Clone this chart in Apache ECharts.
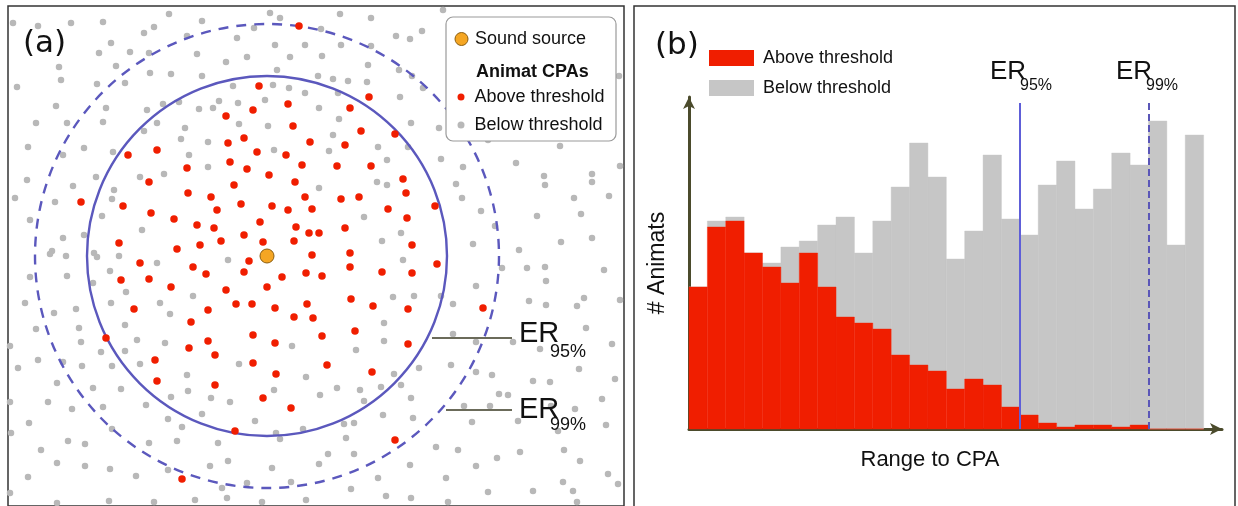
<!DOCTYPE html>
<html><head><meta charset="utf-8">
<script src="https://cdn.jsdelivr.net/npm/echarts@6/dist/echarts.min.js"></script>
<style>html,body{margin:0;padding:0;background:#fff}#c{width:1238px;height:506px}</style>
</head><body><div id="c"></div>
<script>
// ---------- Panel (a): animat CPA positions (offsets from the sound source) ----------
const soundSource = [[0, 0]];
const aboveCPA = [
[32,230],[-8,170],[102,159],[-14,146],[21,152],[83,148],[-41,140],[26,130],[94,125],[128,122],
[-139,101],[-110,106],[-39,113],[-23,118],[43,114],[78,111],[-10,104],[19,101],[-80,88],[-37,94],
[-20,87],[35,91],[70,90],[104,90],[-118,74],[2,81],[28,74],[136,77],[-33,71],[-186,54],
[-144,50],[-79,63],[-56,59],[38,59],[74,57],[92,59],[139,63],[168,50],[-116,43],[-50,46],
[-26,52],[5,50],[21,46],[45,47],[121,47],[-93,37],[140,38],[-70,31],[-53,28],[-7,34],
[29,29],[78,28],[42,23],[52,23],[-148,13],[-90,7],[-67,11],[-46,15],[-23,21],[-4,14],
[27,15],[145,11],[-127,-7],[-18,-5],[45,1],[83,3],[170,-8],[-146,-24],[-118,-23],[-74,-11],
[-61,-18],[-23,-16],[15,-21],[39,-17],[55,-20],[83,-11],[115,-16],[145,-17],[-96,-31],[-41,-34],
[0,-31],[-133,-53],[-59,-54],[-31,-48],[-15,-48],[8,-52],[40,-48],[84,-43],[106,-50],[141,-53],
[216,-52],[-76,-66],[27,-61],[46,-62],[-161,-82],[-78,-92],[-59,-85],[-14,-79],[8,-87],[55,-80],
[88,-75],[141,-88],[-112,-104],[-52,-99],[-14,-107],[60,-109],[-110,-125],[-52,-129],[9,-118],[105,-116],
[-4,-142],[24,-152],[-32,-175],[128,-184],[-85,-223]
];
const belowCPA = [
[-98,242],[-254,233],[-229,230],[-196,233],[-164,234],[-65,235],[-113,229],[-123,223],[-80,220],[-156,213],
[-168,203],[-137,204],[-118,203],[-70,202],[-208,189],[-151,190],[-117,183],[-96,182],[-65,180],[-206,176],
[-170,172],[-142,173],[-250,169],[-104,152],[-88,154],[-211,150],[-161,148],[-120,146],[-68,147],[-54,148],
[-231,133],[-200,133],[-164,134],[-110,133],[-123,125],[-82,128],[-86,117],[-59,114],[-239,109],[-183,108],
[-154,104],[-204,101],[-78,101],[-59,89],[-240,76],[-171,79],[-127,79],[-103,82],[-194,70],[-153,66],
[-252,58],[-212,54],[-155,57],[-165,40],[-237,36],[-125,26],[-204,18],[-183,21],[-215,5],[-173,3],
[3,243],[13,238],[73,242],[104,238],[-13,228],[54,227],[129,220],[143,217],[-30,218],[8,211],
[38,211],[74,211],[104,210],[-20,199],[23,199],[55,200],[-41,194],[101,191],[10,186],[132,186],
[145,180],[51,180],[66,177],[81,175],[100,174],[156,168],[-34,170],[6,171],[22,168],[38,163],
[71,163],[-48,155],[-29,153],[-2,156],[133,159],[52,148],[72,137],[-28,132],[1,130],[144,133],
[66,121],[7,106],[62,105],[111,109],[141,109],[120,96],[110,74],[120,71],[52,68],[97,39],
[134,23],[115,15],
[176,246],[155,225],[352,180],[172,128],[221,116],[249,93],[293,110],[174,97],[196,89],[277,80],
[278,71],[325,82],[325,74],[189,72],[307,58],[342,60],[195,58],[214,45],[270,40],[314,42],
[228,30],[206,12],[252,6],[294,14],[325,18],[353,90],
[-217,2],[-201,0],[-170,-1],[-148,0],[-237,-21],[-200,-20],[-157,-15],[-174,-27],[-110,-7],[-141,-36],
[-74,-40],[-242,-47],[-213,-57],[-191,-53],[-156,-47],[-107,-47],[-97,-58],[-231,-73],[-188,-72],[-142,-69],
[-257,-90],[-186,-86],[-130,-84],[-102,-87],[-166,-96],[-142,-95],[-229,-104],[-204,-106],[-185,-110],[-155,-110],
[-127,-108],[-249,-112],[-210,-127],[-174,-132],[-146,-133],[-80,-119],[-79,-135],[-219,-146],[-195,-153],[-164,-151],
[-121,-149],[-96,-141],[-56,-142],[-257,-146],[-99,-163],[-85,-171],[-65,-158],[-238,-167],[-155,-173],[-256,-177],
[-199,-185],[-182,-188],[-118,-187],[-90,-185],[-226,-194],[-210,-207],[-182,-210],[-157,-213],[-99,-214],[-57,-210],
[-239,-221],[-131,-220],[-257,-237],[-210,-247],[-158,-245],[-113,-246],[-72,-244],
[-39,-4],[136,-4],[126,-41],[147,-40],[117,-67],[117,-85],[25,-90],[89,-94],[-28,-108],[152,-112],
[39,-121],[127,-118],[134,-129],[7,-134],[70,-132],[93,-134],[114,-131],[53,-139],[-37,-146],[97,-145],
[144,-142],[116,-159],[146,-162],[-12,-165],[36,-173],[77,-168],[87,-167],[9,-177],[13,-183],[-49,-187],
[79,-182],[61,-198],[87,-198],[-39,-205],[5,-212],[52,-208],[143,-209],[111,-222],[-20,-227],[24,-226],
[-45,-232],[84,-233],[-40,-242],[-5,-246],[39,-244],[119,-240],[144,-242],
[260,-12],[278,-11],[337,-14],[235,-12],[209,-30],[279,-25],[174,-40],[186,-48],[262,-45],[279,-49],
[310,-50],[317,-42],[353,-44],[319,-72],[186,-78],[209,-86],[246,-86],[273,-93],[345,-88],[184,-109],
[209,-116],[225,-119],[266,-125],[283,-126],[312,-113],[348,-123],[232,-138],[241,-139],[197,-150],[223,-150],
[284,-150],[308,-153],[335,-143],[205,-166],[251,-165],[291,-175],[339,-169],[169,-191],[191,-194],[230,-202],
[253,-196],[297,-194],[313,-205],[209,-210],[341,-218],[179,-222],[221,-236],[266,-235],[296,-226],[306,-235],
[351,-228],[181,-246],[310,-246]
];
const erNames = ['95%', '99%'];
const erRadii = [180, 232];

// ---------- Panel (b): histogram of range to CPA ----------
const aboveCounts = [71,101,104,88,81,73,88,71,56,53,50,37,32,29,20,25,22,11,7,3,1,2,2,1,2,0,0,0];
const belowCounts = [0,3,2,0,2,18,6,31,50,35,54,84,111,97,65,74,115,94,90,119,133,108,118,137,130,154,92,147];
const erBinEdges = [18, 25];

const RED = '#f01e00', GREY_BAR = '#c6c6c6', GREY_DOT = '#b8b8b8', ER_COL = '#5b58bd', AXIS_COL = '#4b4b2c';
const NARROW = "'Liberation Sans',Arial,sans-serif";

const chart = echarts.init(document.getElementById('c'), null, {renderer: 'canvas'});

function barItem(params, api) {
  const i = api.value(0), lo = api.value(1), hi = api.value(2);
  const p0 = api.coord([i, lo]), p1 = api.coord([i + 1, hi]);
  return {type: 'rect', shape: {x: p0[0], y: p1[1], width: p1[0] - p0[0], height: p0[1] - p1[1]},
    style: {fill: api.visual('color'), stroke: api.visual('color'), lineWidth: 0.4}};
}
function circleItem(params, api) {
  const c = api.coord([api.value(0), api.value(1)]);
  const r = api.size([api.value(2), 0])[0];
  return {type: 'circle', shape: {cx: c[0], cy: c[1], r: r},
    style: {fill: 'none', stroke: ER_COL, lineWidth: 2.4, lineDash: params.dataIndex === 1 ? [10, 8] : null}};
}

const txt = (text, x, y, size, extra) => Object.assign({type: 'text', z: 100, style: Object.assign({
  text: text, x: x, y: y, font: size + 'px ' + NARROW, fill: '#111', verticalAlign: 'middle'}, extra || {})});

chart.setOption({
  animation: false,
  backgroundColor: '#fff',
  grid: [
    {left: 8, top: 6, width: 616, height: 500, show: true, borderColor: '#333', borderWidth: 1.5, backgroundColor: 'transparent'},
    {left: 689, top: 97, width: 533, height: 332}
  ],
  xAxis: [
    {gridIndex: 0, type: 'value', min: -259, max: 357, show: false},
    {gridIndex: 1, type: 'value', min: 0, max: 29, splitLine: {show: false}, axisTick: {show: false}, axisLabel: {show: false},
     axisLine: {show: true, onZero: false, symbol: ['none', 'arrow'], symbolSize: [9, 12], lineStyle: {color: AXIS_COL, width: 3}},
     name: 'Range to CPA', nameLocation: 'middle', nameGap: 20,
     nameTextStyle: {fontFamily: NARROW, fontSize: 22, color: '#111', padding: [0, 51, 0, 0]}}
  ],
  yAxis: [
    {gridIndex: 0, type: 'value', min: -250, max: 250, show: false},
    {gridIndex: 1, type: 'value', min: 0, max: 166, splitLine: {show: false}, axisTick: {show: false}, axisLabel: {show: false},
     axisLine: {show: true, onZero: false, symbol: ['none', 'arrow'], symbolSize: [9, 12], lineStyle: {color: AXIS_COL, width: 3}},
     name: '# Animats', nameLocation: 'middle', nameGap: 20, nameRotate: 90,
     nameTextStyle: {fontFamily: NARROW, fontSize: 23, color: '#111'}}
  ],
  legend: [
    {left: 449.5, top: 23, orient: 'vertical', icon: 'circle', itemWidth: 17, itemHeight: 13, z: 110,
     textStyle: {fontFamily: NARROW, fontSize: 18, color: '#111', lineHeight: 22},
     data: [{name: 'Sound source', itemStyle: {color: '#f5a623', borderColor: '#8c5e10', borderWidth: 1, opacity: 1}}]},
    {left: 452.5, top: 81, orient: 'vertical', icon: 'circle', itemWidth: 17, itemHeight: 7, itemGap: 6, z: 110,
     textStyle: {fontFamily: NARROW, fontSize: 18, color: '#111', lineHeight: 22},
     data: [{name: 'Above threshold', itemStyle: {color: RED, opacity: 1}}, {name: 'Below threshold', itemStyle: {color: GREY_DOT, opacity: 1}}]},
    {left: 704, top: 42, orient: 'vertical', icon: 'rect', itemWidth: 45, itemHeight: 16, itemGap: 8, z: 110,
     textStyle: {fontFamily: NARROW, fontSize: 18, color: '#111', lineHeight: 22, padding: [0, 0, 0, 4]},
     data: [{name: 'Above threshold', itemStyle: {color: RED, opacity: 1}}, {name: 'Below threshold', itemStyle: {color: GREY_BAR, opacity: 1}}]}
  ],
  series: [
    {name: 'Below threshold', type: 'scatter', xAxisIndex: 0, yAxisIndex: 0, data: belowCPA, symbolSize: 6.5,
     itemStyle: {color: GREY_DOT, opacity: 1}, z: 2, silent: true},
    {name: 'ER circles', type: 'custom', xAxisIndex: 0, yAxisIndex: 0, renderItem: circleItem, clip: false, silent: true,
     data: erRadii.map(r => [0, 0, r]), z: 3},
    {name: 'Above threshold', type: 'scatter', xAxisIndex: 0, yAxisIndex: 0, data: aboveCPA, symbolSize: 7.5,
     itemStyle: {color: RED, opacity: 1}, z: 4, silent: true},
    {name: 'Sound source', type: 'scatter', xAxisIndex: 0, yAxisIndex: 0, data: soundSource, symbolSize: 14,
     itemStyle: {color: '#f5a623', borderColor: '#8c5e10', borderWidth: 1, opacity: 1}, z: 5, silent: true},
    {name: 'Below threshold', type: 'custom', xAxisIndex: 1, yAxisIndex: 1, renderItem: barItem, silent: true,
     itemStyle: {color: GREY_BAR}, encode: {x: 0, y: [1, 2]},
     data: belowCounts.map((v, i) => [i, aboveCounts[i], aboveCounts[i] + v]), z: 2},
    {name: 'Above threshold', type: 'custom', xAxisIndex: 1, yAxisIndex: 1, renderItem: barItem, silent: true,
     itemStyle: {color: RED}, encode: {x: 0, y: [1, 2]},
     data: aboveCounts.map((v, i) => [i, 0, v]), z: 3,
     markLine: {silent: true, symbol: 'none', label: {show: false},
       data: erBinEdges.map((e, k) => [
         {coord: [e, 0], lineStyle: {color: k ? '#5a56b8' : '#5e5ed8', width: 2, type: k ? [7, 4] : 'solid'}},
         {coord: [e, 163]}])}}
  ],
  graphic: {elements: [
    {type: 'rect', z: 100, shape: {x: 634, y: 6, width: 601, height: 520}, style: {fill: 'none', stroke: '#333', lineWidth: 1.5}},
    {type: 'rect', z: 100, shape: {x: 446, y: 17, width: 170, height: 124, r: 7}, style: {fill: '#fff', stroke: '#9a9a9a', lineWidth: 1.2}},
    txt('Animat CPAs', 476, 72, 18, {font: 'bold 18px ' + NARROW}),
    {type: 'text', z: 100, style: {text: '(a)', x: 23, y: 44, font: '31px "DejaVu Sans"', fill: '#111', verticalAlign: 'middle'}},
    {type: 'text', z: 100, style: {text: '(b)', x: 655, y: 46, font: '31px "DejaVu Sans"', fill: '#111', verticalAlign: 'middle'}},
    {type: 'line', z: 100, shape: {x1: 432, y1: 338, x2: 512, y2: 338}, style: {stroke: '#6b6b5a', lineWidth: 2}},
    {type: 'line', z: 100, shape: {x1: 446, y1: 410, x2: 512, y2: 410}, style: {stroke: '#6b6b5a', lineWidth: 2}},
    txt('ER', 519, 334, 29), txt(erNames[0], 550, 352, 18),
    txt('ER', 519, 410, 29), txt(erNames[1], 550, 425, 18),
    txt('ER', 990, 72, 26), txt(erNames[0], 1020, 86, 16),
    txt('ER', 1116, 72, 26), txt(erNames[1], 1146, 86, 16)
  ]}
});
</script></body></html>
